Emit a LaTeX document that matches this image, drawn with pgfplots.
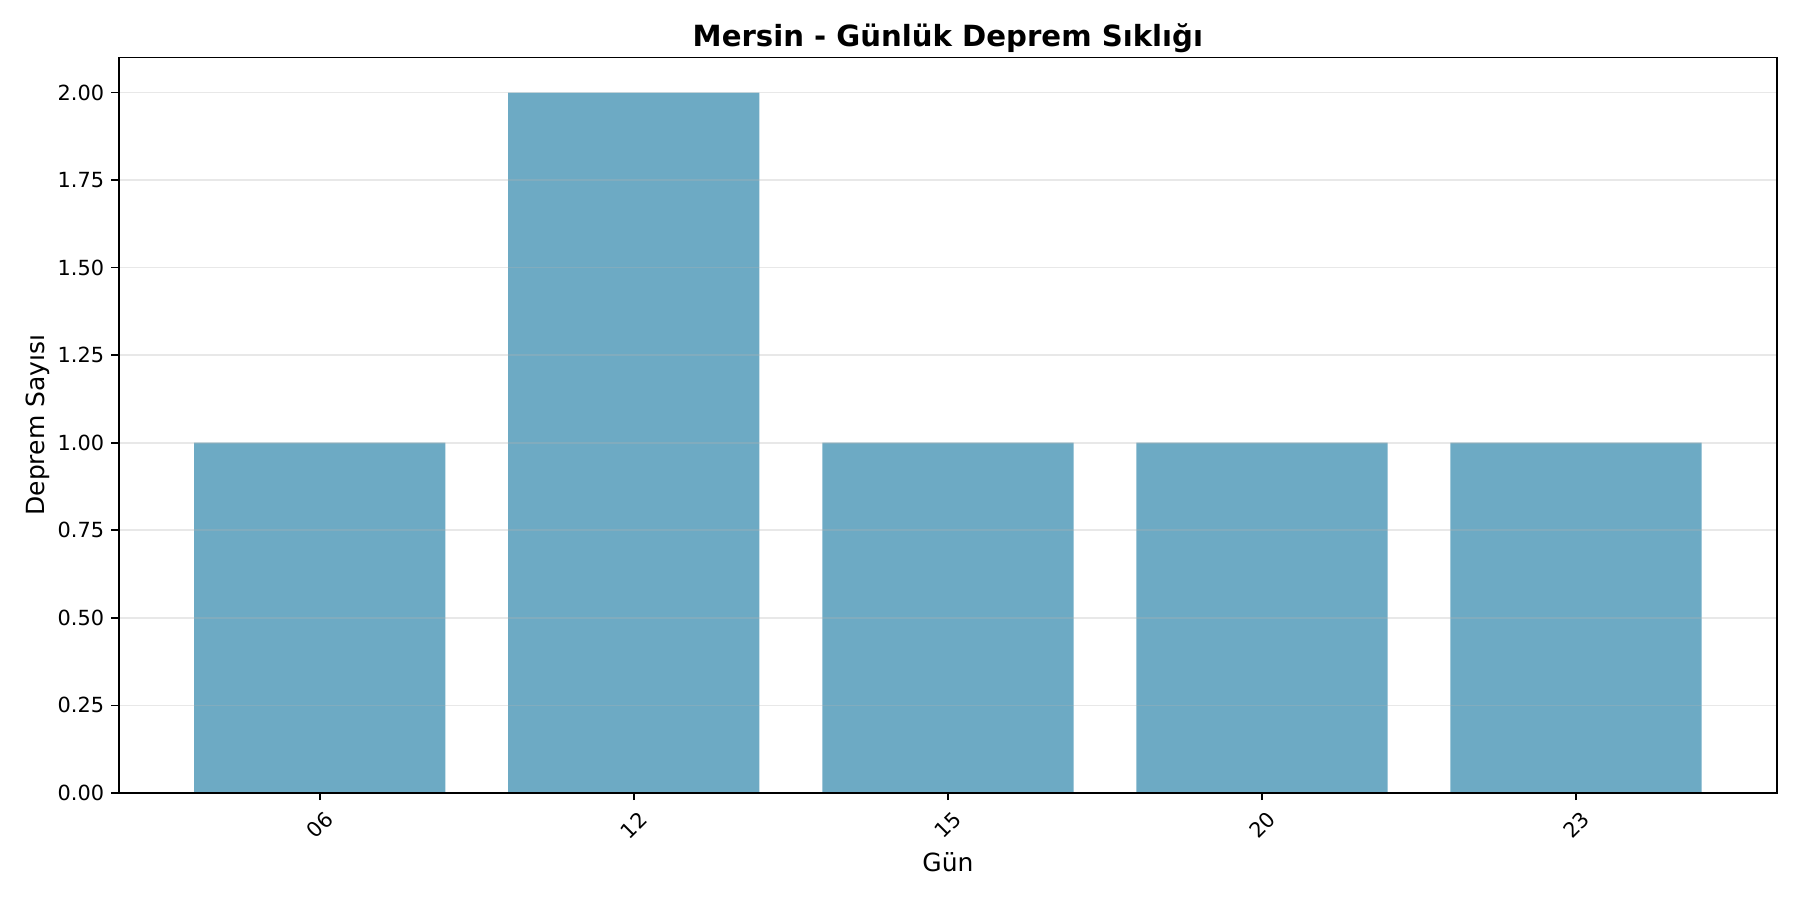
\documentclass[border=0pt]{standalone}
\usepackage{fontspec}
\setmainfont{DejaVu Sans}
\usepackage{pgfplots}
\pgfplotsset{compat=1.18}
\definecolor{barblue}{HTML}{6DAAC4}
\begin{document}
\begin{tikzpicture}
\useasboundingbox (-57pt,-51.4pt) rectangle (807pt,380.6pt);
\begin{axis}[
  anchor=south west, at={(0,0)},
  width=796pt, height=353pt, scale only axis,
  xmin=-0.64, xmax=4.64, ymin=0, ymax=2.1,
  xtick={0,1,2,3,4},
  xticklabels={06,12,15,20,23},
  ytick={0,0.25,0.5,0.75,1,1.25,1.5,1.75,2},
  yticklabel style={/pgf/number format/.cd, fixed, fixed zerofill, precision=2},
  /pgf/number format/assume math mode=true,
  tick label style={font=\fontsize{10}{12}\selectfont},
  xticklabel style={yshift=-12pt, rotate=45, anchor=center, inner sep=0pt},
  tick align=outside, major tick length=3.5pt,
  xtick pos=bottom, ytick pos=left,
  tick style={black, line width=0.8pt},
  axis line style={line width=0.8pt},
  ymajorgrids, grid style={color=gray!60, opacity=0.3, line width=0.8pt},
  axis on top,
  title={\bfseries Mersin - Günlük Deprem Sıklığı},
  title style={font=\fontsize{14}{16}\selectfont, yshift=-7.5pt},
  xlabel={Gün}, ylabel={Deprem Sayısı},
  label style={font=\fontsize{12}{14}\selectfont},
  xlabel style={yshift=-2.4pt},
  ylabel style={yshift=-2.8pt},
]
\addplot[ybar, bar width=0.8, fill=barblue, draw=none] coordinates {
  (0,1) (1,2) (2,1) (3,1) (4,1)
};
\end{axis}
\end{tikzpicture}
\end{document}
